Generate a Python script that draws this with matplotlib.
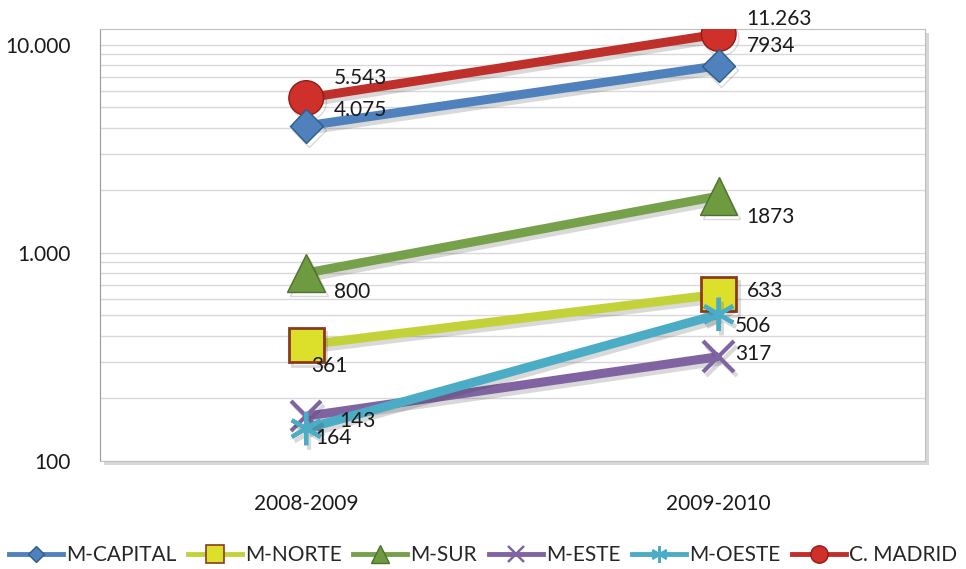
import matplotlib
matplotlib.use('Agg')
import matplotlib.pyplot as plt
import matplotlib.patheffects as pe
from matplotlib.lines import Line2D
from matplotlib.ticker import FixedLocator, FuncFormatter, LogLocator, NullFormatter

plt.rcParams['font.family'] = ['Lato', 'DejaVu Sans']

# data
periods = ['2008-2009', '2009-2010']
series_names = ['M-CAPITAL', 'M-NORTE', 'M-SUR', 'M-ESTE', 'M-OESTE', 'C. MADRID']
m_capital = [4075, 7934]
m_norte = [361, 633]
m_sur = [800, 1873]
m_este = [164, 317]
m_oeste = [143, 506]
c_madrid = [5543, 11263]
label_texts = {
    'M-CAPITAL': ['4.075', '7934'],
    'M-NORTE': ['361', '633'],
    'M-SUR': ['800', '1873'],
    'M-ESTE': ['164', '317'],
    'M-OESTE': ['143', '506'],
    'C. MADRID': ['5.543', '11.263'],
}

values = [m_capital, m_norte, m_sur, m_este, m_oeste, c_madrid]
# colour, marker, marker size, face, edge, edge width
styles = [
    ('#4F81BD', 'D', 17, '#4F81BD', '#2E5C8A', 1),
    ('#C4D23A', 's', 25, '#DCE02A', '#8B3A1E', 2),
    ('#77A04A', '^', 27, '#6E9A40', '#4E7030', 1),
    ('#8064A2', 'x', 22, '#8064A2', '#8064A2', 3),
    ('#4BACC6', (6, 2, 0), 24, '#4BACC6', '#4BACC6', 3),
    ('#C0302A', 'o', 25, '#D0302A', '#8E1B16', 1),
]
# label offsets in pixels (dx, dy) from the point
offsets = {
    'M-CAPITAL': [(28, 16), (28, 20)],
    'M-NORTE': [(5, -21), (28, 3)],
    'M-SUR': [(28, -19), (28, -21)],
    'M-ESTE': [(9, -22), (16, 3)],
    'M-OESTE': [(33, 8), (16, -12)],
    'C. MADRID': [(28, 20), (28, 15)],
}
draw_order = [5, 0, 2, 1, 3, 4]

fig = plt.figure(figsize=(9.66, 5.69), dpi=100)
ax = fig.add_axes([0.1035, 0.19, 0.854, 0.759])
ax.set_yscale('log')
ax.set_ylim(100, 11900)
ax.set_xlim(-0.5, 1.5)

x = list(range(len(periods)))
shadow = [pe.SimpleLineShadow(offset=(2, -3), alpha=0.18, shadow_color='#303030'), pe.Normal()]
for i in reversed(draw_order):
    name = series_names[i]
    col, mk, ms, fc, ec, mew = styles[i]
    ax.plot(x, values[i], color=col, lw=6.5, marker=mk, markersize=ms,
            markerfacecolor=fc, markeredgecolor=ec, markeredgewidth=mew,
            solid_capstyle='butt', zorder=3 + draw_order.index(i) * 0.01,
            path_effects=shadow)
    for j, v in enumerate(values[i]):
        dx, dy = offsets[name][j]
        ax.annotate(label_texts[name][j], (x[j], v), xytext=(dx, dy),
                    textcoords='offset pixels', ha='left', va='center',
                    fontsize=15, color='#1a1a1a', zorder=10, annotation_clip=False)

ax.yaxis.set_major_locator(FixedLocator([100, 1000, 10000]))
ax.yaxis.set_major_formatter(FuncFormatter(lambda v, p: f'{int(v):,}'.replace(',', '.')))
ax.yaxis.set_minor_locator(LogLocator(base=10, subs=range(2, 10)))
ax.yaxis.set_minor_formatter(NullFormatter())
ax.grid(True, which='both', axis='y', color='#D9D9D9', lw=1)
ax.set_axisbelow(True)
ax.set_xticks(x)
ax.set_xticklabels(periods)
ax.tick_params(axis='both', which='both', length=0, labelsize=15, colors='#1a1a1a')
ax.tick_params(axis='x', pad=24)
ax.tick_params(axis='y', pad=21)
for s in ax.spines.values():
    s.set_color('#BFBFBF')
ax.spines['left'].set_color('#9A9A9A')
ax.patch.set_path_effects([pe.SimplePatchShadow(offset=(3, -3), alpha=0.22), pe.Normal()])

handles = []
for i, name in enumerate(series_names):
    col, mk, ms, fc, ec, mew = styles[i]
    handles.append(Line2D([], [], color=col, lw=3.5, marker=mk, markersize=ms * 0.5,
                          markerfacecolor=fc, markeredgecolor=ec,
                          markeredgewidth=max(1, mew * 0.6)))
fig.legend(handles, series_names, loc='center', bbox_to_anchor=(0.5, 0.024), ncol=6,
           frameon=False, fontsize=15, handlelength=2.6, handletextpad=0.15,
           columnspacing=0.55, labelcolor='#262626')

fig.savefig('out.png', dpi=100)
